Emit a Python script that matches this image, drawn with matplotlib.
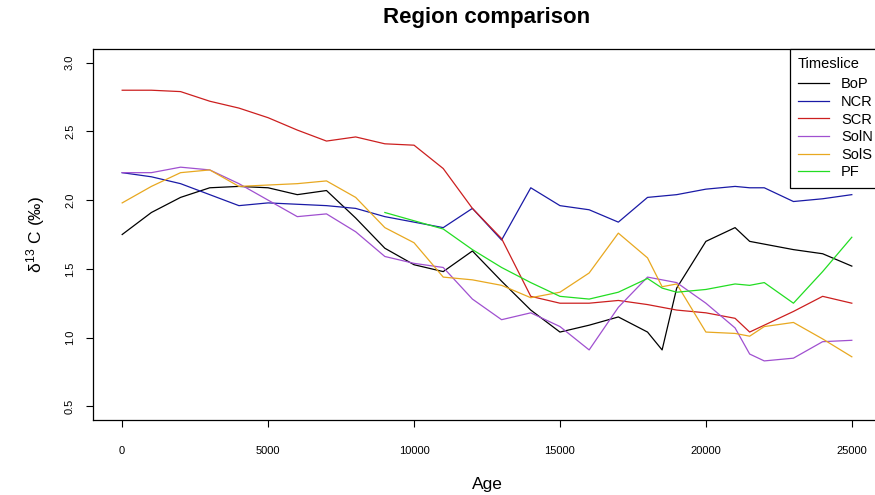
import matplotlib
matplotlib.use('Agg')
from matplotlib import pyplot as plt
import numpy as np

plt.rcParams['font.family'] = ['Liberation Sans', 'DejaVu Sans']
plt.rcParams['mathtext.fontset'] = 'custom'
plt.rcParams['mathtext.rm'] = 'Liberation Sans'
plt.rcParams['mathtext.it'] = 'Liberation Sans'

ages = [0, 1000, 2000, 3000, 4000, 5000, 6000, 7000, 8000, 9000, 10000,
        11000, 12000, 13000, 14000, 15000, 16000, 17000, 18000, 18500,
        19000, 20000, 21000, 21500, 22000, 23000, 24000, 25000]

bop = [1.75, 1.91, 2.02, 2.09, 2.10, 2.09, 2.04, 2.07, 1.87, 1.65, 1.53,
       1.48, 1.63, 1.41, 1.20, 1.04, 1.09, 1.15, 1.04, 0.91,
       1.36, 1.70, 1.80, 1.70, 1.68, 1.64, 1.61, 1.52]
ncr = [2.20, 2.17, 2.12, 2.04, 1.96, 1.98, 1.97, 1.96, 1.94, 1.88, 1.84,
       1.80, 1.94, 1.71, 2.09, 1.96, 1.93, 1.84, 2.02, 2.03,
       2.04, 2.08, 2.10, 2.09, 2.09, 1.99, 2.01, 2.04]
scr = [2.80, 2.80, 2.79, 2.72, 2.67, 2.60, 2.51, 2.43, 2.46, 2.41, 2.40,
       2.23, 1.94, 1.72, 1.30, 1.25, 1.25, 1.27, 1.24, 1.22,
       1.20, 1.18, 1.14, 1.04, 1.09, 1.19, 1.30, 1.25]
soln = [2.20, 2.20, 2.24, 2.22, 2.12, 2.00, 1.88, 1.90, 1.77, 1.59, 1.54,
        1.51, 1.28, 1.13, 1.18, 1.08, 0.91, 1.22, 1.44, 1.42,
        1.40, 1.25, 1.07, 0.88, 0.83, 0.85, 0.97, 0.98]
sols = [1.98, 2.10, 2.20, 2.22, 2.10, 2.11, 2.12, 2.14, 2.02, 1.80, 1.69,
        1.44, 1.42, 1.38, 1.29, 1.33, 1.47, 1.76, 1.58, 1.37,
        1.39, 1.04, 1.03, 1.01, 1.08, 1.11, 0.99, 0.86]
pf = [np.nan] * 9 + [1.91, 1.85,
      1.79, 1.64, 1.51, 1.40, 1.30, 1.28, 1.33, 1.43, 1.36,
      1.33, 1.35, 1.39, 1.38, 1.40, 1.25, 1.48, 1.73]

labels = ['BoP', 'NCR', 'SCR', 'SolN', 'SolS', 'PF']
colors = ['black', '#1a1aa6', '#cc1f1f', '#a050d0', '#e8a820', '#22dd22']

fig = plt.figure(figsize=(8.75, 4.95), dpi=100)
ax = fig.add_axes([93 / 875, 1 - 420 / 495, 788 / 875, 371 / 495])

for series, lab, col in zip([bop, ncr, scr, soln, sols, pf], labels, colors):
    ax.plot(ages, series, color=col, lw=0.9, label=lab)

ax.set_xlim(-1000, 26000)
ax.set_ylim(0.4, 3.1)
ax.set_xticks([0, 5000, 10000, 15000, 20000, 25000])
ax.set_yticks([0.5, 1.0, 1.5, 2.0, 2.5, 3.0])
ax.set_yticklabels(['0.5', '1.0', '1.5', '2.0', '2.5', '3.0'], rotation=90, va='center')
ax.tick_params(axis='x', length=5, width=0.8, pad=14, labelsize=8)
ax.tick_params(axis='y', length=5, width=0.8, pad=8, labelsize=8)
for s in ax.spines.values():
    s.set_linewidth(0.9)

ax.set_xlabel('Age', fontsize=12.5, labelpad=15)
ax.set_ylabel(r'$\delta^{13}$ C (‰)', fontsize=12.5, labelpad=13)
fig.suptitle('Region comparison', fontsize=16, fontweight='bold', x=0.556, y=0.985)

leg = ax.legend(title='Timeslice', loc='upper right', bbox_to_anchor=(1, 1),
                borderaxespad=0, fancybox=False, edgecolor='black', fontsize=10.5,
                title_fontsize=10.5, handlelength=2.1, handletextpad=0.85,
                labelspacing=0.25, alignment='left', framealpha=1, borderpad=0.55)
leg.get_frame().set_linewidth(0.9)
leg._legend_box.sep = 4.5

plt.savefig('out.png', dpi=100)
